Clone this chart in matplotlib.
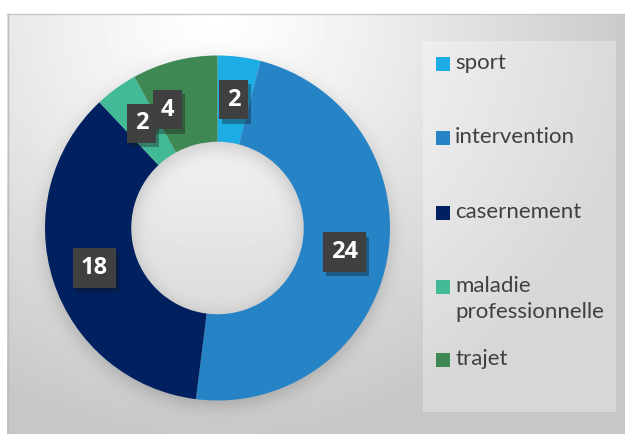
import numpy as np
import matplotlib
matplotlib.use("Agg")
import matplotlib.pyplot as plt
import matplotlib.patheffects as pe
from matplotlib.patches import Rectangle

categories = ["sport", "intervention", "casernement", "maladie\nprofessionnelle", "trajet"]
values = [2, 24, 18, 2, 4]
colors = ["#1CADE4", "#2683C6", "#002060", "#42BA97", "#3E8853"]

W, H = 625, 434
fig = plt.figure(figsize=(W / 100, H / 100), dpi=100)

# background: radial gradient + soft donut shadow
yy, xx = np.mgrid[0:H, 0:W] + 0.5
d = np.hypot((xx - 215) / 430, (yy - 14) / 430)
bg = 1 - 0.22 * np.clip(d, 0, 1) ** 1.2
cx, cy, R, r_in = 217.5, 228.0, 172.5, 86.0
rr = np.hypot(xx - cx, yy - (cy + 5))
mask = ((rr <= R) & (rr >= r_in)).astype(float)
k = np.exp(-0.5 * (np.arange(-30, 31) / 9.0) ** 2)
k /= k.sum()
blur = np.apply_along_axis(lambda a: np.convolve(a, k, mode="same"), 1, mask)
blur = np.apply_along_axis(lambda a: np.convolve(a, k, mode="same"), 0, blur)
bg -= 0.16 * blur
bg[yy < 14] = 1
bg[xx < 7] = 1

bax = fig.add_axes([0, 0, 1, 1])
bax.imshow(bg, cmap="gray", vmin=0, vmax=1, extent=(0, W, H, 0), aspect="auto", interpolation="bilinear")
bax.plot([7.5, 7.5], [14, H], color="#bdbdbd", lw=1)
bax.plot([7, W], [14, 14], color="#c8c8c8", lw=1)
bax.set_xlim(0, W)
bax.set_ylim(H, 0)
bax.axis("off")

# legend (drawn by hand, Excel style)
bax.add_patch(Rectangle((423, 41), 193, 371, facecolor="white", alpha=0.3, edgecolor="none"))
leg_y = [64, 138, 213, 287, 360]
for lab, col, y in zip(categories, colors, leg_y):
    bax.add_patch(Rectangle((436, y - 7), 14, 14, facecolor=col, edgecolor="none"))
    bax.text(455, y - 11, lab, fontsize=16, family="Lato", color="#404040",
             va="top", ha="left", linespacing=1.4)

# donut
ax = fig.add_axes([(cx - R) / W, (H - cy - R) / H, 2 * R / W, 2 * R / H])
wedges, _ = ax.pie(values, colors=colors, startangle=90, counterclock=False,
                   wedgeprops=dict(width=0.5, edgecolor="none"))
ax.set_xlim(-1, 1)
ax.set_ylim(-1, 1)
ax.axis("off")

offsets = {4: (-18, -7)}
for i, (w, v) in enumerate(zip(wedges, values)):
    ang = np.deg2rad((w.theta1 + w.theta2) / 2)
    x, y = 0.75 * np.cos(ang), 0.75 * np.sin(ang)
    t = ax.annotate(str(v), (x, y), xytext=offsets.get(i, (0, 0)), textcoords="offset pixels",
                    ha="center", va="center", fontsize=17, family="Open Sans", weight="bold",
                    color="white",
                    bbox=dict(boxstyle="square,pad=0.33", facecolor="#404040", edgecolor="none"))
    t.get_bbox_patch().set_path_effects([pe.SimplePatchShadow(offset=(2, -3), alpha=0.35),
                                         pe.Normal()])

fig.savefig("out.png", dpi=100)
